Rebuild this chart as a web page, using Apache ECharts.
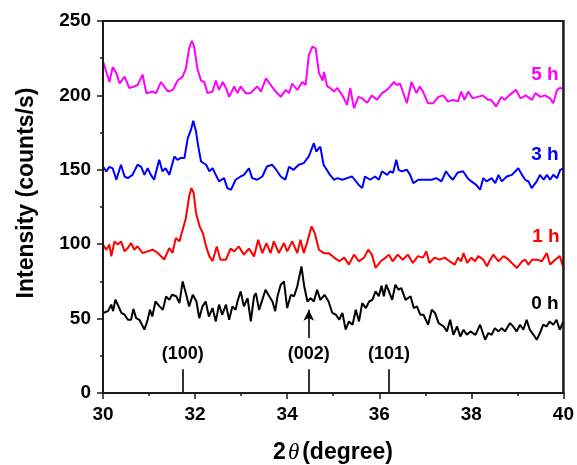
<!DOCTYPE html>
<html>
<head>
<meta charset="utf-8">
<script src="https://cdn.jsdelivr.net/npm/echarts@6/dist/echarts.min.js"></script>
<style>html,body{margin:0;padding:0;background:#fff;}#c{width:577px;height:465px;}</style>
</head>
<body>
<div id="c"></div>
<script>
// ---- data ----
const x5h = [30.00,30.14,30.21,30.29,30.36,30.47,30.57,30.68,30.75,30.86,30.94,31.08,31.15,31.26,31.33,31.41,31.52,31.62,31.73,31.80,31.87,31.93,31.98,32.05,32.13,32.20,32.27,32.38,32.45,32.52,32.60,32.67,32.74,32.85,32.92,32.99,33.10,33.20,33.35,33.43,33.54,33.64,33.75,33.86,33.97,34.04,34.11,34.22,34.33,34.40,34.47,34.55,34.62,34.69,34.77,34.80,34.87,34.93,35.02,35.09,35.20,35.30,35.37,35.45,35.55,35.63,35.74,35.84,35.95,36.06,36.17,36.32,36.38,36.45,36.60,36.70,36.81,36.88,36.95,37.06,37.17,37.28,37.39,37.49,37.60,37.71,37.78,37.85,37.93,38.03,38.14,38.25,38.36,38.43,38.54,38.65,38.72,38.82,38.97,39.07,39.18,39.32,39.39,39.50,39.60,39.71,39.78,39.86,39.93,40.00];
const y5h = [223,209,219,215,208,212.6,205,206,207,214,201.5,202.6,201.5,209,206,202.6,203.7,210,212.6,218,231.7,236.6,232.8,218,210,209,201.5,202.6,210,203.7,209,205,199,206,201.5,206,201.5,201.5,206,202.6,211.5,207,202.6,199,203.7,201.5,208,203.7,209,207,227,232.8,231.6,215,210,215.8,206,205,202.6,205,200,193.6,205,191.4,199,198,195,200,197,201.5,203.7,209,207,208,194.7,209,201.5,206,202.6,194.7,194.7,199,200,195.8,197,196,202.6,197,202.6,198,199,200,197,197,192.5,199,197,200,203.7,198,200,197,201.5,199,200,198,194.7,203.7,205,204];

const x3h = [30.00,30.07,30.14,30.21,30.29,30.39,30.47,30.54,30.64,30.75,30.83,30.90,30.97,31.04,31.11,31.22,31.29,31.36,31.44,31.55,31.62,31.69,31.77,31.84,31.91,31.96,32.02,32.07,32.13,32.24,32.31,32.38,32.45,32.52,32.63,32.70,32.78,32.88,32.99,33.06,33.17,33.24,33.35,33.46,33.56,33.67,33.74,33.86,33.96,34.04,34.14,34.25,34.36,34.47,34.58,34.63,34.72,34.79,34.86,34.93,35.02,35.09,35.20,35.30,35.41,35.55,35.63,35.69,35.80,35.91,35.99,36.06,36.17,36.24,36.30,36.37,36.42,36.49,36.60,36.67,36.74,36.85,37.00,37.14,37.24,37.35,37.45,37.53,37.60,37.70,37.82,37.92,38.00,38.10,38.19,38.26,38.33,38.44,38.52,38.59,38.66,38.77,38.88,39.02,39.10,39.17,39.24,39.31,39.42,39.49,39.57,39.64,39.71,39.78,39.86,39.93,40.00];
const y3h = [152.2,148.9,152,151,143.3,153.4,145.5,144.4,146.6,153.4,152,146.6,151,146.6,143.3,156.7,149,151,146.6,158.9,156.7,158,158,171.3,176.8,183,175.7,165.6,155.6,153.4,149,151,146.6,142.2,144.4,137.7,136.6,143.3,145.5,146.6,151,144.4,143.3,145.5,152.2,153.4,151,145.5,143.3,152,150,153.4,154.5,159,167.9,162.3,165.6,153.4,150,146.6,143.3,144.4,143.3,144.4,145.5,140,137.7,145.5,143.3,145.5,143.3,149,146.6,149,148,156.7,150,149,150,146.6,141,143.3,143.3,143.3,144.4,142.2,149,145.5,143.3,148,149,144.4,142.2,140,136.6,144.4,142.2,144.4,141,146.6,142.2,145.5,146.6,151,146.6,143.3,142.2,137.7,142.2,146.6,143.3,146.6,143.3,146.6,144.4,150,151];

const x1h = [30.00,30.07,30.14,30.18,30.25,30.32,30.39,30.47,30.54,30.61,30.68,30.75,30.86,30.97,31.08,31.19,31.33,31.44,31.51,31.58,31.66,31.73,31.80,31.87,31.92,31.97,32.02,32.10,32.17,32.24,32.31,32.38,32.47,32.55,32.67,32.77,32.85,32.95,33.06,33.17,33.28,33.37,33.46,33.55,33.64,33.71,33.82,33.93,34.00,34.11,34.22,34.29,34.36,34.44,34.53,34.60,34.69,34.80,34.90,35.02,35.13,35.24,35.34,35.45,35.56,35.67,35.76,35.84,35.92,36.03,36.14,36.21,36.29,36.40,36.51,36.62,36.73,36.84,36.95,37.02,37.09,37.20,37.31,37.42,37.53,37.64,37.71,37.78,37.83,37.91,38.00,38.08,38.15,38.26,38.34,38.41,38.48,38.59,38.70,38.81,38.88,38.99,39.10,39.17,39.24,39.32,39.43,39.53,39.60,39.64,39.71,39.82,39.92,40.00];
const y1h = [99.7,96.3,99.7,91.8,101.9,99.7,101.9,95.2,97.4,100.8,96.3,98.6,94.1,95.2,96.3,94.1,89.7,97.4,94.1,104.1,101.9,109.7,117.5,132,137.7,134.4,121,111.8,107.4,98.5,91.8,88.5,98.5,89.6,89.6,97,95.2,98.5,93,97,91.8,103,94,100.8,94,101.9,94,100.8,95.2,101.9,94,103,94,101.9,112,107.4,96.3,94,94,91,88.5,91,86.3,93,88.5,91,96.3,93,84,88.5,91,93,88.5,93,89.6,93,87.4,92,91,95.2,87.4,91,89.6,91,88.5,86.3,91,88.5,94,87.4,91,88.5,92,89.6,85.2,89.6,93,88.5,92,89.6,87.4,84,88.5,89.6,86.3,89.6,89.6,88.5,92,94,86.3,89.6,92,84];

const x0h = [30.00,30.11,30.18,30.22,30.27,30.32,30.40,30.47,30.54,30.61,30.66,30.72,30.79,30.90,30.97,31.02,31.07,31.14,31.23,31.30,31.37,31.44,31.50,31.59,31.66,31.73,31.80,31.87,31.95,32.03,32.09,32.16,32.23,32.30,32.38,32.45,32.52,32.59,32.67,32.74,32.81,32.88,32.92,32.99,33.06,33.14,33.21,33.28,33.32,33.39,33.46,33.53,33.61,33.68,33.74,33.79,33.86,33.93,34.00,34.08,34.15,34.22,34.31,34.37,34.44,34.51,34.58,34.65,34.72,34.81,34.90,34.98,35.06,35.13,35.20,35.27,35.34,35.42,35.49,35.56,35.63,35.71,35.78,35.85,35.92,35.99,36.05,36.10,36.15,36.21,36.28,36.35,36.42,36.48,36.57,36.68,36.75,36.82,36.89,36.96,37.06,37.14,37.21,37.29,37.40,37.47,37.54,37.61,37.69,37.76,37.83,37.90,37.98,38.09,38.19,38.30,38.37,38.44,38.51,38.59,38.66,38.73,38.84,38.91,38.98,39.06,39.13,39.20,39.27,39.35,39.42,39.49,39.56,39.63,39.70,39.78,39.85,39.92,40.00];
const y0h = [53.8,55,59.4,55,62.8,59.4,53.8,52.6,49.2,49.2,56.4,50.3,49.2,42.6,49.2,55.9,51.4,61.5,58.2,55.9,64.9,62.6,66,65,60.4,75,67.1,58.2,66,61.5,50.3,58.2,61.5,51.4,57.1,48.1,59.4,52.6,59.4,49.2,58.2,55.9,61.5,68.3,58.2,63.8,48.1,65,67.1,55.9,62.6,69.4,65,61.5,55,65,72.8,75,57.1,66,65,71.7,85.1,71.7,61.5,63.8,61.5,69.4,62.6,66,61.5,53.8,52.6,49.2,53.8,42.6,48.1,45.9,56,48.1,60.4,57.1,61.5,62.6,68.3,65,72.1,65,72.8,68.3,62.6,72.8,69.4,70.5,62.6,65,57.1,58.2,52.6,52.6,45.9,56,53.8,47,44.7,41.4,49.2,39.1,44.7,38,42.5,39.1,41.4,39.1,45.9,35.8,40.3,39.1,43.6,41.4,43.6,41.4,47,44.7,41.4,45.9,42.5,49.2,42.5,39.1,35.8,40.3,45.9,44.7,48.1,45.9,49.2,42.5,48.1];

const seriesNames = ['0 h', '1 h', '3 h', '5 h'];
const seriesColors = ['#000000', '#ff0000', '#0000ff', '#ff00ff'];
const peakPositions = [31.73, 34.47, 36.21];
const peakLabels = ['(100)', '(002)', '(101)'];
const peakLineTop = 16;
const arrowX = 34.47, arrowFrom = 37, arrowTo = 56;
const xMin = 30, xMax = 40, yMin = 0, yMax = 250;
const xTicks = [30, 32, 34, 36, 38, 40];
const yTicks = [0, 50, 100, 150, 200, 250];

// ---- chart ----
const zip = (xs, ys) => xs.map((v, i) => [v, ys[i]]);
const allX = [x0h, x1h, x3h, x5h];
const allY = [y0h, y1h, y3h, y5h];
const FONT = 'Liberation Sans';
const AX = '#1a1a1a';
const chart = echarts.init(document.getElementById('c'), null, { renderer: 'canvas' });

const peakMarks = peakPositions.map((p, i) => [
  { coord: [p, 0], symbol: 'none' },
  { coord: [p, peakLineTop], symbol: 'none', label: { show: true, formatter: peakLabels[i] } }
]);
peakMarks.push([
  { coord: [arrowX, arrowFrom], symbol: 'none', label: { show: false } },
  { coord: [arrowX, arrowTo], symbol: 'arrow', symbolSize: [8, 11], label: { show: false } }
]);

const series = seriesNames.map((n, i) => ({
  name: n, type: 'line', data: zip(allX[i], allY[i]), showSymbol: false, symbol: 'none',
  lineStyle: { color: seriesColors[i], width: 2 }, itemStyle: { color: seriesColors[i] },
  animation: false, z: 3
}));
series[0].markLine = {
  silent: true, animation: false, symbol: 'none',
  lineStyle: { color: '#000', width: 1.6, type: 'solid' },
  label: { show: false, position: 'end', distance: 6, color: '#000', fontFamily: FONT, fontWeight: 'bold', fontSize: 18 },
  data: peakMarks
};

const texts = [
  { type: 'text', x: 27, y: 193, rotation: Math.PI / 2,
    style: { text: 'Intensity (counts/s)', fill: '#000', font: 'bold 23px "Liberation Sans"', textAlign: 'center', textVerticalAlign: 'middle' } },
  { type: 'text', x: 333, y: 453,
    style: { text: '{a|2}{b|θ}{a|(degree)}', textAlign: 'center', textVerticalAlign: 'middle',
      rich: { a: { fontFamily: FONT, fontWeight: 'bold', fontSize: 23, fill: '#000' },
              b: { fontFamily: 'Liberation Serif', fontStyle: 'italic', fontSize: 23, fill: '#000', padding: [0, 3, 0, 2] } } } },
  { type: 'text', x: 545, y: 75, style: { text: '5 h', fill: '#ff00ff', font: 'bold 19px "Liberation Sans"', textAlign: 'center', textVerticalAlign: 'middle' } },
  { type: 'text', x: 545, y: 155, style: { text: '3 h', fill: '#0000ff', font: 'bold 19px "Liberation Sans"', textAlign: 'center', textVerticalAlign: 'middle' } },
  { type: 'text', x: 546, y: 237, style: { text: '1 h', fill: '#ff0000', font: 'bold 19px "Liberation Sans"', textAlign: 'center', textVerticalAlign: 'middle' } },
  { type: 'text', x: 545, y: 304, style: { text: '0 h', fill: '#000000', font: 'bold 19px "Liberation Sans"', textAlign: 'center', textVerticalAlign: 'middle' } }
];

chart.setOption({
  backgroundColor: '#fff',
  animation: false,
  grid: { left: 103, right: 12, top: 21, bottom: 72, show: true, borderColor: AX, borderWidth: 2 },
  xAxis: {
    type: 'value', min: xMin, max: xMax, interval: 2,
    axisLine: { show: true, onZero: false, lineStyle: { color: AX, width: 2 } },
    axisTick: { show: true, inside: false, length: 6, lineStyle: { color: AX, width: 1.5 } },
    minorTick: { show: true, splitNumber: 2, length: 3, lineStyle: { color: AX, width: 1.5 } },
    splitLine: { show: false },
    axisLabel: { margin: 12, color: '#000', fontFamily: FONT, fontWeight: 'bold', fontSize: 19,
      formatter: v => xTicks.includes(v) ? String(v) : '' }
  },
  yAxis: {
    type: 'value', min: yMin, max: yMax, interval: 50,
    axisLine: { show: true, onZero: false, lineStyle: { color: AX, width: 2 } },
    axisTick: { show: true, inside: false, length: 6, lineStyle: { color: AX, width: 1.5 } },
    minorTick: { show: true, splitNumber: 2, length: 3, lineStyle: { color: AX, width: 1.5 } },
    splitLine: { show: false },
    axisLabel: { margin: 12, color: '#000', fontFamily: FONT, fontWeight: 'bold', fontSize: 19,
      formatter: v => yTicks.includes(v) ? String(v) : '' }
  },
  graphic: texts,
  series: series
});

// plot frame taken from the axes' own scale
const tl = chart.convertToPixel({ xAxisIndex: 0, yAxisIndex: 0 }, [xMin, yMax]);
const br = chart.convertToPixel({ xAxisIndex: 0, yAxisIndex: 0 }, [xMax, yMin]);
chart.setOption({
  graphic: texts.concat([{
    type: 'rect', silent: true, z: 10,
    shape: { x: tl[0], y: tl[1], width: br[0] - tl[0], height: br[1] - tl[1] },
    style: { fill: 'none', stroke: AX, lineWidth: 2 }
  }])
});
</script>
</body>
</html>
